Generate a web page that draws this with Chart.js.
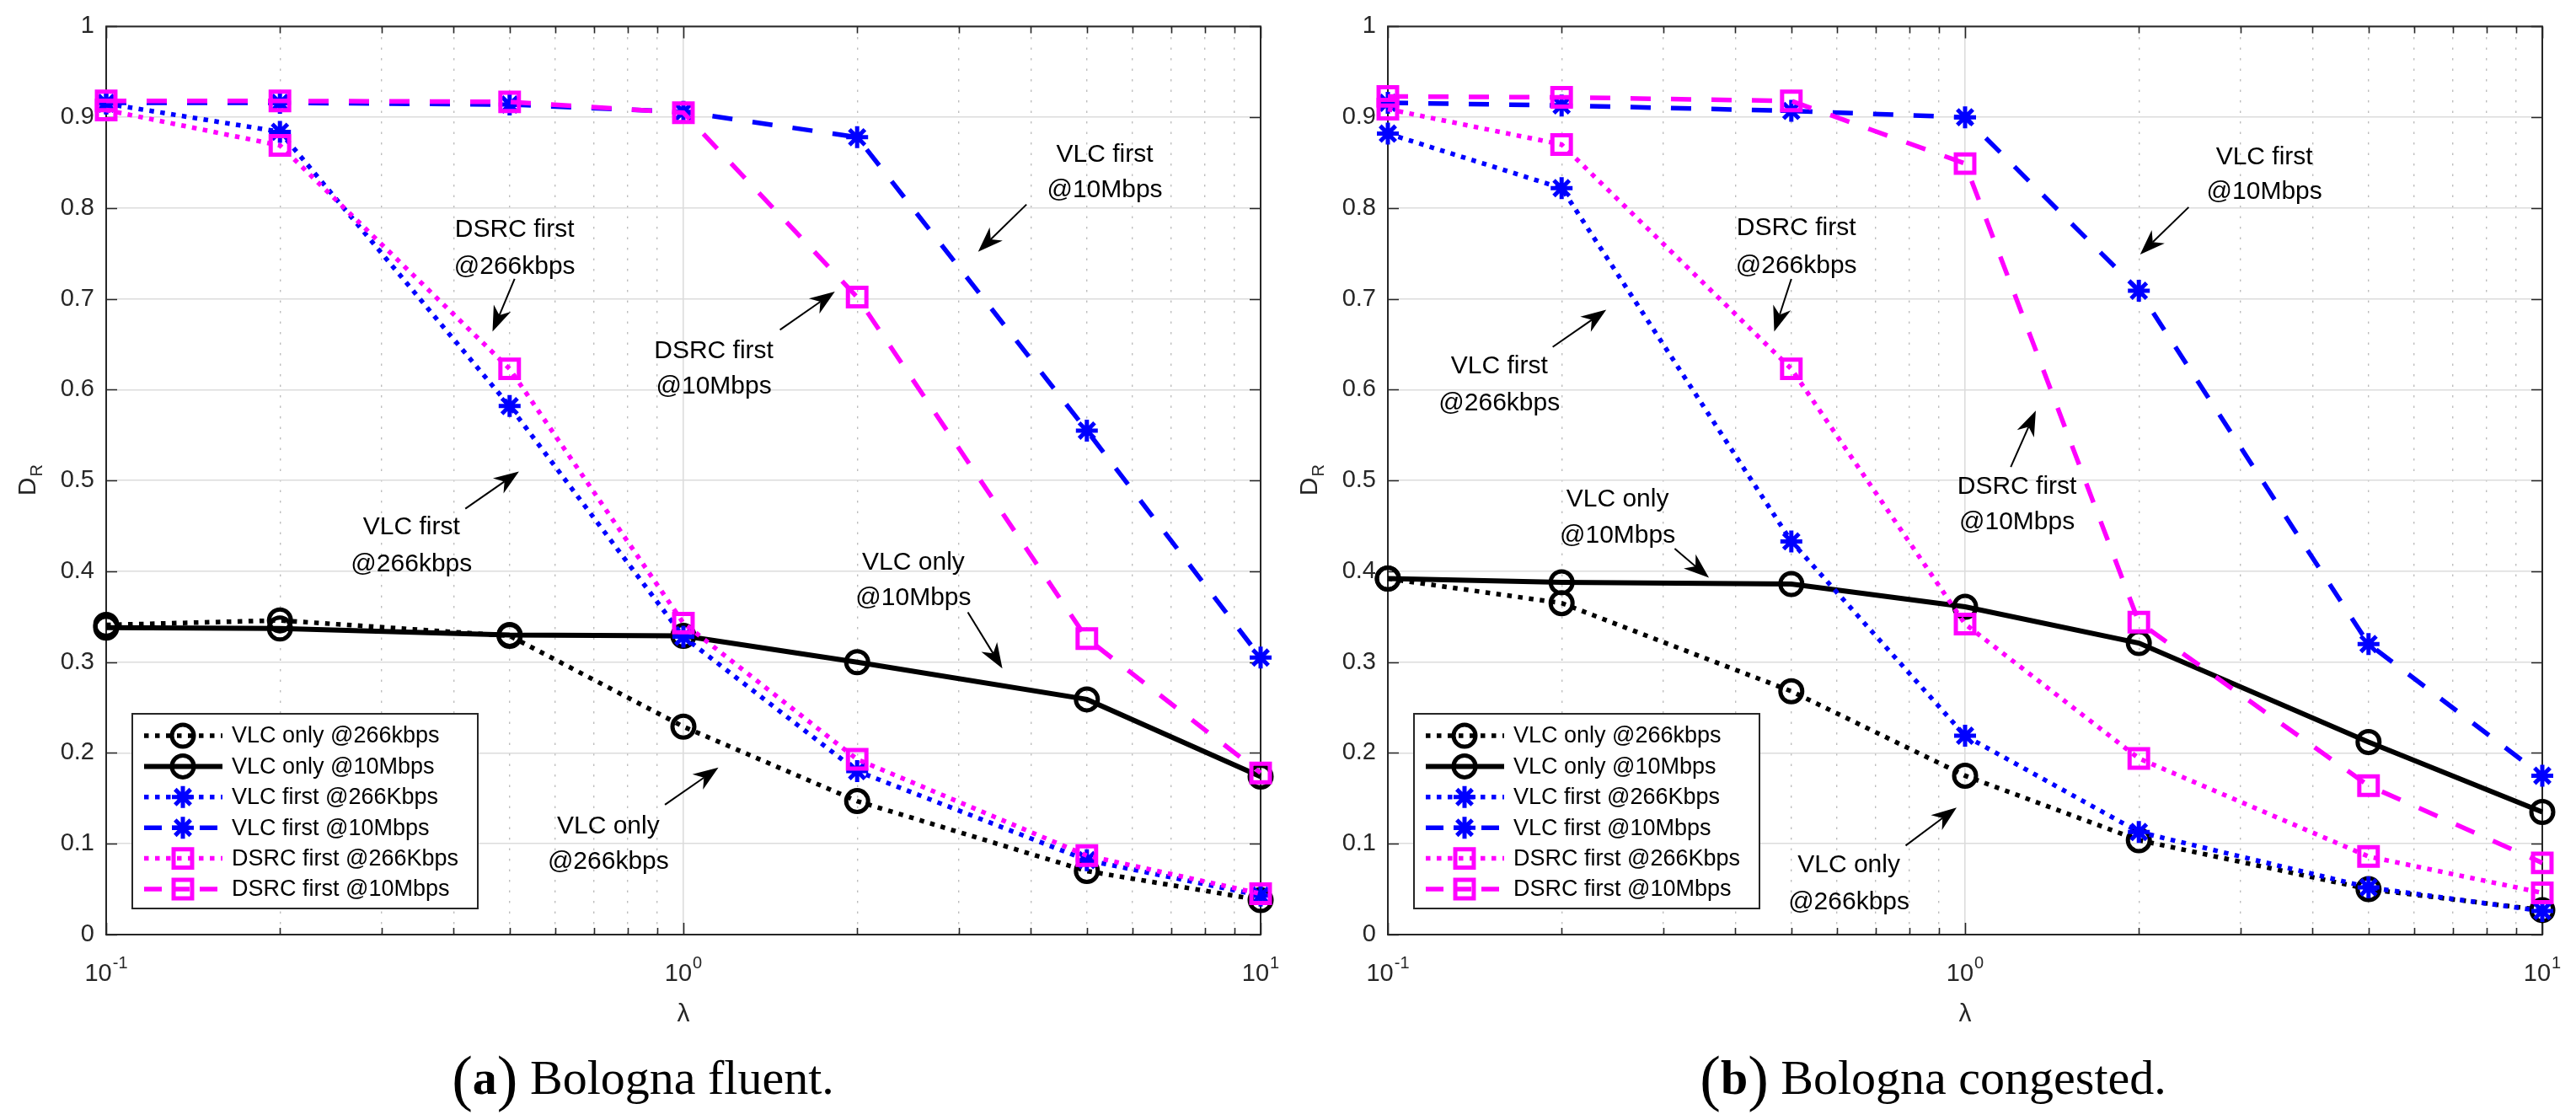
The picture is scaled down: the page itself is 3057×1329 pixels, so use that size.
<!DOCTYPE html>
<html><head><meta charset="utf-8">
<script src="https://cdn.jsdelivr.net/npm/chart.js@4.4.1/dist/chart.umd.min.js"></script>
<style>
html,body{margin:0;padding:0;background:#fff;}
#wrap{position:relative;width:3057px;height:1329px;overflow:hidden;background:#fff;}
.cv{position:absolute;top:0;height:1329px;}
</style></head><body>
<div id="wrap">
  <div class="cv" style="left:0;width:1528px;"><canvas id="c1"></canvas></div>
  <div class="cv" style="left:1528px;width:1529px;"><canvas id="c2"></canvas></div>
</div>
<script>
// ---------------- data ----------------
const lambdaValues = [0.1, 0.2, 0.5, 1, 2, 5, 10];
const xTickValues = [0.1,0.2,0.3,0.4,0.5,0.6,0.7,0.8,0.9,1,2,3,4,5,6,7,8,9,10];
const xMajorTicks = [0.1, 1, 10];
const xMajorExponents = ['-1', '0', '1'];
const yTickLabels = ['0','0.1','0.2','0.3','0.4','0.5','0.6','0.7','0.8','0.9','1'];
const seriesLabels = ['VLC only @266kbps','VLC only @10Mbps','VLC first @266Kbps','VLC first @10Mbps','DSRC first @266Kbps','DSRC first @10Mbps'];

// (a) Bologna fluent
const fluentVlcOnly266   = [0.341, 0.346, 0.329, 0.229, 0.147, 0.070, 0.038];
const fluentVlcOnly10    = [0.338, 0.337, 0.330, 0.329, 0.300, 0.259, 0.174];
const fluentVlcFirst266  = [0.915, 0.884, 0.582, 0.328, 0.180, 0.082, 0.043];
const fluentVlcFirst10   = [0.916, 0.916, 0.914, 0.906, 0.878, 0.555, 0.305];
const fluentDsrcFirst266 = [0.908, 0.869, 0.623, 0.343, 0.193, 0.087, 0.045];
const fluentDsrcFirst10  = [0.918, 0.918, 0.917, 0.905, 0.702, 0.326, 0.178];

// (b) Bologna congested
const congVlcOnly266   = [0.392, 0.365, 0.268, 0.175, 0.104, 0.050, 0.027];
const congVlcOnly10    = [0.392, 0.388, 0.386, 0.361, 0.321, 0.212, 0.135];
const congVlcFirst266  = [0.882, 0.822, 0.433, 0.219, 0.113, 0.052, 0.026];
const congVlcFirst10   = [0.916, 0.913, 0.907, 0.900, 0.709, 0.320, 0.175];
const congDsrcFirst266 = [0.909, 0.870, 0.623, 0.342, 0.194, 0.086, 0.046];
const congDsrcFirst10  = [0.923, 0.922, 0.918, 0.849, 0.344, 0.164, 0.079];

// annotations in data coordinates: text lines, anchor [x, y line1, y line2], arrow from -> to
const fluentAnnotations = [
  {text:['DSRC first','@266kbps'], at:[0.51, 0.779, 0.738], from:[0.51, 0.722], to:[0.467, 0.664]},
  {text:['VLC first','@10Mbps'],   at:[5.37, 0.861, 0.822], from:[3.93, 0.804], to:[3.24, 0.752]},
  {text:['DSRC first','@10Mbps'],  at:[1.129, 0.645, 0.606], from:[1.47, 0.666], to:[1.83, 0.708]},
  {text:['VLC first','@266kbps'],  at:[0.338, 0.451, 0.410], from:[0.419, 0.469], to:[0.519, 0.510]},
  {text:['VLC only','@10Mbps'],    at:[2.503, 0.412, 0.373], from:[3.11, 0.355], to:[3.57, 0.293]},
  {text:['VLC only','@266kbps'],   at:[0.741, 0.122, 0.083], from:[0.929, 0.143], to:[1.15, 0.184]}
];
const congAnnotations = [
  {text:['DSRC first','@266kbps'], at:[0.51, 0.780, 0.739], from:[0.50, 0.722], to:[0.467, 0.664]},
  {text:['VLC first','@266kbps'],  at:[0.156, 0.628, 0.587], from:[0.193, 0.647], to:[0.239, 0.688]},
  {text:['VLC first','@10Mbps'],   at:[3.30, 0.858, 0.820], from:[2.44, 0.801], to:[2.01, 0.749]},
  {text:['DSRC first','@10Mbps'],  at:[1.23, 0.496, 0.457], from:[1.20, 0.515], to:[1.326, 0.577]},
  {text:['VLC only','@10Mbps'],    at:[0.250, 0.482, 0.442], from:[0.314, 0.425], to:[0.360, 0.393]},
  {text:['VLC only','@266kbps'],   at:[0.629, 0.079, 0.038], from:[0.789, 0.098], to:[0.967, 0.140]}
];
const fluentCaption = ['a', 'Bologna fluent.'];
const congCaption = ['b', 'Bologna congested.'];
const xAxisTitle = 'λ';
const yAxisTitle = ['D', 'R'];

// ---------------- styles ----------------
const FONT = '"Liberation Sans", Arial, Helvetica, sans-serif';
const SERIF = '"Liberation Serif", "Times New Roman", serif';
const AXIS = '#262626';
const seriesStyles = [
  {color:'#000000', dash:[5.5,7.5], style:'circle', r:13,   lw:5.5},
  {color:'#000000', dash:[],        style:'circle', r:13,   lw:6},
  {color:'#0000ff', dash:[5.5,7.5], style:'star',   r:13,   lw:5.5},
  {color:'#0000ff', dash:[24,24],   style:'star',   r:13,   lw:5.5},
  {color:'#ff00ff', dash:[5.5,7.5], style:'rect',   r:15.5, lw:5.5},
  {color:'#ff00ff', dash:[24,24],   style:'rect',   r:15.5, lw:5.5}
];

function isMajor(v){ const l = Math.log10(v); return Math.abs(l - Math.round(l)) < 1e-6; }

function makeDatasets(seriesList){
  return seriesList.map((vals, i) => {
    const s = seriesStyles[i];
    return {
      label: seriesLabels[i],
      data: lambdaValues.map((x, j) => ({x: x, y: vals[j]})),
      borderColor: s.color, backgroundColor: s.color,
      borderWidth: s.lw, borderDash: s.dash, borderCapStyle: 'butt',
      tension: 0, fill: false,
      pointStyle: s.style, pointRadius: s.r, pointBorderWidth: 5,
      pointBorderColor: s.color, pointBackgroundColor: 'rgba(0,0,0,0)',
      pointHoverRadius: s.r,
      clip: false,
      order: 5 - i
    };
  });
}

function drawMarker(ctx, style, x, y, r){
  ctx.beginPath();
  if (style === 'circle') { ctx.arc(x, y, r, 0, Math.PI*2); }
  else if (style === 'rect') { const h = r*Math.SQRT1_2; ctx.rect(x-h, y-h, 2*h, 2*h); }
  else if (style === 'star') {
    ctx.moveTo(x, y-r); ctx.lineTo(x, y+r); ctx.moveTo(x-r, y); ctx.lineTo(x+r, y);
    const d = r*Math.SQRT1_2;
    ctx.moveTo(x-d, y-d); ctx.lineTo(x+d, y+d); ctx.moveTo(x-d, y+d); ctx.lineTo(x+d, y-d);
  }
  ctx.stroke();
}

function drawArrow(ctx, x1, y1, x2, y2){
  const a = Math.atan2(y2-y1, x2-x1);
  const L = 30, W = 11, N = 21;
  const c = Math.cos(a), s = Math.sin(a);
  const bx = x2 - c*N, by = y2 - s*N;
  ctx.beginPath(); ctx.moveTo(x1, y1); ctx.lineTo(bx, by); ctx.lineWidth = 2; ctx.stroke();
  const hx = x2 - c*L, hy = y2 - s*L;
  ctx.beginPath();
  ctx.moveTo(x2, y2);
  ctx.lineTo(hx - s*W, hy + c*W);
  ctx.lineTo(bx, by);
  ctx.lineTo(hx + s*W, hy - c*W);
  ctx.closePath(); ctx.fill();
}

const decorPlugin = {
  id: 'matlabDecor',
  beforeDatasetsDraw(chart, args, opts){
    const ctx = chart.ctx, ca = chart.chartArea;
    const xs = chart.scales.x, ys = chart.scales.y;
    ctx.save();
    ctx.strokeStyle = AXIS; ctx.lineWidth = 1.6; ctx.setLineDash([]);
    ctx.beginPath();
    xs.ticks.forEach(t => {
      const x = Math.round(xs.getPixelForValue(t.value)) + 0.5;
      const len = isMajor(t.value) ? 14 : 8;
      ctx.moveTo(x, ca.bottom); ctx.lineTo(x, ca.bottom - len);
      ctx.moveTo(x, ca.top); ctx.lineTo(x, ca.top + len);
    });
    ys.ticks.forEach(t => {
      const y = Math.round(ys.getPixelForValue(t.value)) + 0.5;
      ctx.moveTo(ca.left, y); ctx.lineTo(ca.left + 13, y);
      ctx.moveTo(ca.right, y); ctx.lineTo(ca.right - 13, y);
    });
    ctx.stroke();
    ctx.lineWidth = 2;
    ctx.strokeRect(ca.left, ca.top, ca.right - ca.left, ca.bottom - ca.top);
    ctx.restore();
  },
  afterDatasetsDraw(chart, args, opts){
    const ctx = chart.ctx, ca = chart.chartArea;
    const xs = chart.scales.x, ys = chart.scales.y;
    ctx.save();
    // annotations
    ctx.fillStyle = '#000'; ctx.strokeStyle = '#000'; ctx.setLineDash([]);
    ctx.font = '30px ' + FONT; ctx.textAlign = 'center'; ctx.textBaseline = 'alphabetic';
    opts.annotations.forEach(an => {
      const tx = xs.getPixelForValue(an.at[0]);
      ctx.fillText(an.text[0], tx, ys.getPixelForValue(an.at[1]) + 11);
      ctx.fillText(an.text[1], tx, ys.getPixelForValue(an.at[2]) + 11);
      drawArrow(ctx, xs.getPixelForValue(an.from[0]), ys.getPixelForValue(an.from[1]),
                xs.getPixelForValue(an.to[0]), ys.getPixelForValue(an.to[1]));
    });
    // legend
    const lx = ca.left + 31, ly = ca.bottom - 262, lw = 410, lh = 231;
    ctx.fillStyle = '#fff'; ctx.fillRect(lx, ly, lw, lh);
    ctx.strokeStyle = AXIS; ctx.lineWidth = 2; ctx.strokeRect(lx, ly, lw, lh);
    ctx.textAlign = 'left'; ctx.textBaseline = 'middle'; ctx.font = '27px ' + FONT;
    chart.data.datasets.forEach((ds, i) => {
      const y = ly + 26 + i * 36.4;
      ctx.strokeStyle = ds.borderColor; ctx.lineWidth = ds.borderWidth; ctx.lineCap = 'butt';
      ctx.setLineDash(ds.borderDash.length ? (ds.borderDash[0] > 10 ? [21, 12] : ds.borderDash) : []);
      ctx.lineDashOffset = 0;
      ctx.beginPath(); ctx.moveTo(lx + 14, y); ctx.lineTo(lx + 107, y); ctx.stroke();
      ctx.setLineDash([]); ctx.lineWidth = ds.pointBorderWidth;
      drawMarker(ctx, ds.pointStyle, lx + 60, y, ds.pointRadius);
      ctx.fillStyle = '#000';
      ctx.fillText(ds.label, lx + 118, y + 1);
    });
    ctx.restore();
  },
  afterDraw(chart, args, opts){
    const ctx = chart.ctx, ca = chart.chartArea;
    const xs = chart.scales.x;
    ctx.save();
    ctx.fillStyle = AXIS; ctx.textBaseline = 'alphabetic'; ctx.textAlign = 'left';
    // x tick labels 10^n
    xMajorTicks.forEach((v, i) => {
      const x = xs.getPixelForValue(v);
      ctx.font = '29px ' + FONT; const w1 = ctx.measureText('10').width;
      ctx.font = '20px ' + FONT; const w2 = ctx.measureText(xMajorExponents[i]).width;
      const sx = x - (w1 + 1 + w2) / 2;
      ctx.font = '29px ' + FONT; ctx.fillText('10', sx, ca.bottom + 55);
      ctx.font = '20px ' + FONT; ctx.fillText(xMajorExponents[i], sx + w1 + 1, ca.bottom + 40);
    });
    // x title
    ctx.font = '30px ' + FONT; ctx.textAlign = 'center';
    ctx.fillText(xAxisTitle, (ca.left + ca.right) / 2, ca.bottom + 103);
    // y title D_R
    ctx.save();
    ctx.translate(ca.left - 95, (ca.top + ca.bottom) / 2);
    ctx.rotate(-Math.PI / 2);
    ctx.textAlign = 'left';
    ctx.font = '30px ' + FONT; const wD = ctx.measureText(yAxisTitle[0]).width;
    ctx.font = '20px ' + FONT; const wR = ctx.measureText(yAxisTitle[1]).width;
    const st = -(wD + wR) / 2;
    ctx.font = '30px ' + FONT; ctx.fillText(yAxisTitle[0], st, 11);
    ctx.font = '20px ' + FONT; ctx.fillText(yAxisTitle[1], st + wD + 1, 19);
    ctx.restore();
    // caption
    ctx.fillStyle = '#000'; ctx.textAlign = 'left';
    const cap = opts.caption;
    const fP = '74px ' + SERIF, fB = 'bold 58px ' + SERIF, fN = '58px ' + SERIF;
    ctx.font = fP; const wp = ctx.measureText('(').width, wq = ctx.measureText(')').width;
    ctx.font = fB; const wa = ctx.measureText(cap[0]).width;
    ctx.font = fN; const wt = ctx.measureText(' ' + cap[1]).width;
    let cx = opts.captionX - (wp + wa + wq + wt) / 2;
    const by = 1298;
    ctx.font = fP; ctx.fillText('(', cx, by + 6); cx += wp;
    ctx.font = fB; ctx.fillText(cap[0], cx, by); cx += wa;
    ctx.font = fP; ctx.fillText(')', cx, by + 6); cx += wq;
    ctx.font = fN; ctx.fillText(' ' + cap[1], cx, by);
    ctx.restore();
  }
};

function makeChart(id, seriesList, annotations, caption, yAxisWidth, padRight, captionX){
  return new Chart(document.getElementById(id), {
    type: 'line',
    data: { datasets: makeDatasets(seriesList) },
    options: {
      responsive: true, maintainAspectRatio: false, animation: false,
      devicePixelRatio: 1, events: [],
      layout: { padding: { left: 0, right: padRight, top: 26, bottom: 0 } },
      scales: {
        x: {
          type: 'logarithmic', min: 0.1, max: 10,
          afterBuildTicks: s => { s.ticks = xTickValues.map(v => ({ value: v, major: isMajor(v) })); },
          afterFit: s => { s.height = 220; },
          ticks: { callback: () => '', autoSkip: false, maxRotation: 0 },
          grid: {
            drawTicks: false,
            color: c => (c.tick && isMajor(c.tick.value)) ? '#dcdcdc' : '#bdbdbd',
            lineWidth: c => (c.tick && isMajor(c.tick.value)) ? 1.6 : 1.4
          },
          border: { display: false, dash: c => (c.tick && isMajor(c.tick.value)) ? [] : [2.5, 10] }
        },
        y: {
          type: 'linear', min: 0, max: 1,
          afterFit: s => { s.width = yAxisWidth; },
          ticks: {
            stepSize: 0.1, padding: 14, color: AXIS,
            font: { family: FONT, size: 29 },
            callback: (v) => yTickLabels[Math.round(v * 10)]
          },
          grid: { drawTicks: false, color: '#dcdcdc', lineWidth: 1.6 },
          border: { display: false }
        }
      },
      plugins: {
        legend: { display: false }, tooltip: { enabled: false },
        matlabDecor: { annotations: annotations, caption: caption, captionX: captionX }
      }
    },
    plugins: [decorPlugin]
  });
}

makeChart('c1',
  [fluentVlcOnly266, fluentVlcOnly10, fluentVlcFirst266, fluentVlcFirst10, fluentDsrcFirst266, fluentDsrcFirst10],
  fluentAnnotations, fluentCaption, 126, 32, 763);
makeChart('c2',
  [congVlcOnly266, congVlcOnly10, congVlcFirst266, congVlcFirst10, congDsrcFirst266, congDsrcFirst10],
  congAnnotations, congCaption, 119, 40, 766);
</script>
</body></html>
